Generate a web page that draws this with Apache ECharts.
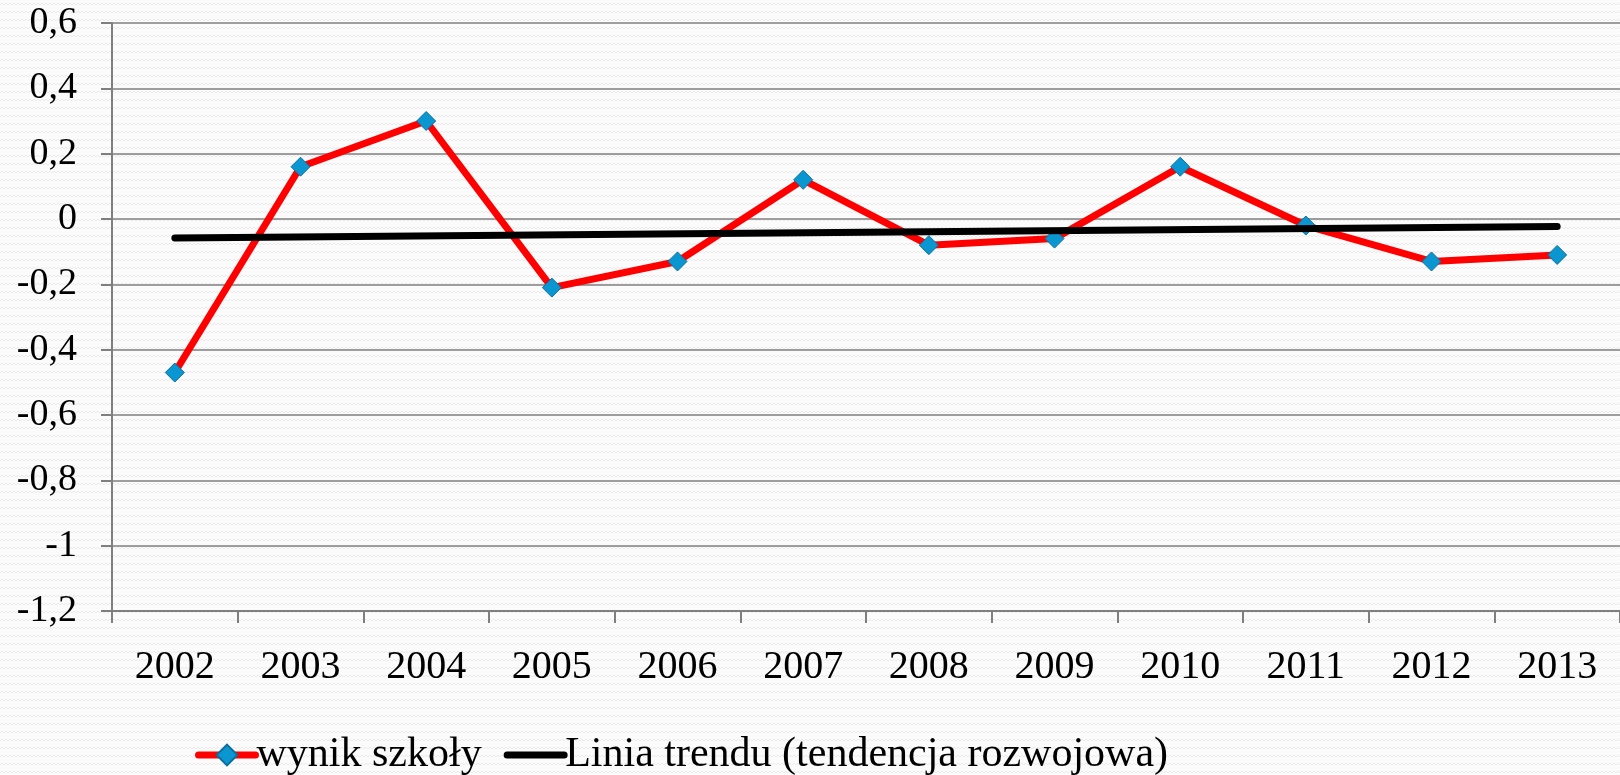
<!DOCTYPE html>
<html>
<head>
<meta charset="utf-8">
<script src="https://cdn.jsdelivr.net/npm/echarts@6/dist/echarts.min.js"></script>
<style>
html,body{margin:0;padding:0;width:1620px;height:775px;overflow:hidden;}
body{
  background-color:#fbfbfb;
  background-image:url("data:image/svg+xml;utf8,<svg xmlns='http://www.w3.org/2000/svg' width='8' height='8'><path d='M0 5 L2 3 L4 5 L6 3 L8 5' fill='none' stroke='%23ebebeb' stroke-width='1'/></svg>");
}
#chart{width:1620px;height:775px;}
</style>
</head>
<body>
<div id="chart"></div>
<script>
var categories = ['2002','2003','2004','2005','2006','2007','2008','2009','2010','2011','2012','2013'];
var wynikSzkoly = [-0.47, 0.16, 0.30, -0.21, -0.13, 0.12, -0.08, -0.06, 0.16, -0.02, -0.13, -0.11];
var trendCategories = ['2002', '2013'];
var trendValues = [-0.058, -0.023];
var seriesNames = ['wynik szkoły', 'Linia trendu (tendencja rozwojowa)'];
var yMin = -1.2, yMax = 0.6, yStep = 0.2;

var fontFamily = '"Liberation Serif", "DejaVu Serif", serif';
var chart = echarts.init(document.getElementById('chart'), null, {renderer: 'canvas'});
chart.setOption({
  backgroundColor: 'transparent',
  animation: false,
  grid: {left: 112, right: 0, top: 23, bottom: 164, containLabel: false},
  legend: {
    left: 190, top: 729,
    itemWidth: 57, itemHeight: 26, itemGap: 22,
    textStyle: {fontFamily: fontFamily, fontSize: 42, color: '#000', padding: [0,0,0,-4]},
    data: [
      {name: seriesNames[0], lineStyle: {width: 7, color: '#ff0000', cap: 'round'}},
      {name: seriesNames[1], lineStyle: {width: 7, color: '#000000', cap: 'round'},
       itemStyle: {color: 'rgba(0,0,0,0)', borderWidth: 0, opacity: 0}}
    ]
  },
  xAxis: {
    type: 'category',
    data: categories,
    boundaryGap: true,
    axisLine: {onZero: false, lineStyle: {color: '#7f7f7f', width: 2}},
    axisTick: {show: true, length: 12, lineStyle: {color: '#7f7f7f', width: 2}},
    axisLabel: {fontFamily: fontFamily, fontSize: 40, color: '#000', margin: 36}
  },
  yAxis: {
    type: 'value',
    min: yMin, max: yMax, interval: yStep,
    axisLine: {show: true, lineStyle: {color: '#7f7f7f', width: 2}},
    axisTick: {show: true, length: 11, lineStyle: {color: '#7f7f7f', width: 2}},
    splitLine: {show: true, lineStyle: {color: '#7f7f7f', width: 1.5}},
    axisLabel: {
      fontFamily: fontFamily, fontSize: 38, color: '#000', margin: 35,
      formatter: function (v) {
        var r = Math.round(v * 10) / 10;
        if (r === 0) return '0';
        return String(r).replace('.', ',');
      }
    }
  },
  series: [
    {
      name: seriesNames[0],
      type: 'line',
      data: wynikSzkoly,
      symbol: 'diamond',
      symbolSize: 19,
      lineStyle: {color: '#ff0000', width: 7},
      itemStyle: {color: '#0a97d1', borderColor: '#0b6f9c', borderWidth: 1},
      z: 2
    },
    {
      name: seriesNames[1],
      type: 'line',
      data: trendCategories.map(function (c, i) { return [c, trendValues[i]]; }),
      symbol: 'none',
      lineStyle: {color: '#000000', width: 7, cap: 'round'},
      itemStyle: {color: '#000000'},
      z: 3
    }
  ]
});
</script>
</body>
</html>
